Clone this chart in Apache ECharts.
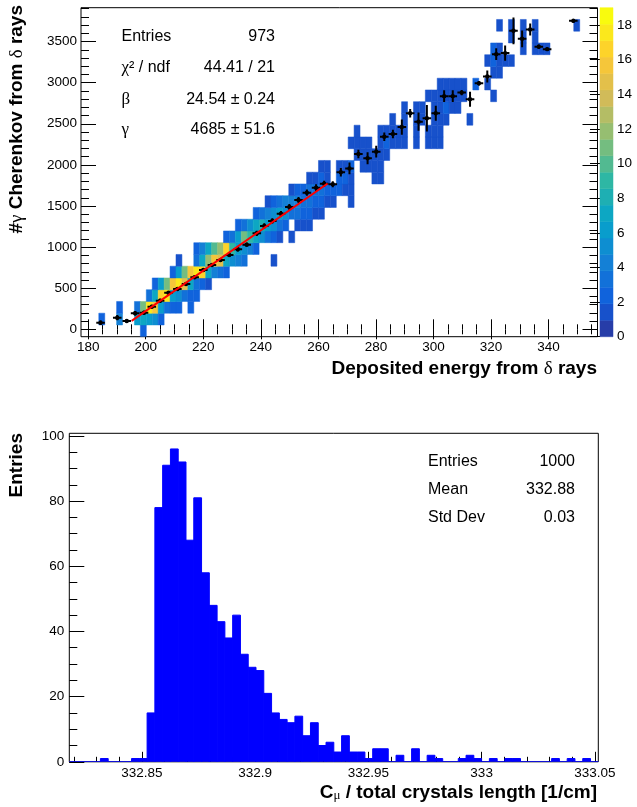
<!DOCTYPE html>
<html>
<head>
<meta charset="utf-8">
<script src="https://cdn.jsdelivr.net/npm/echarts@6/dist/echarts.min.js"></script>
<style>
  html, body { margin: 0; padding: 0; background: #ffffff; }
  #c { width: 637px; height: 807px; }
</style>
</head>
<body>
<div id="c"></div>
<script>
// ---------------- 2D histogram: Cherenkov photons vs deposited energy ----------------
const h2XMin = 177.5, h2XMax = 357.0, h2NX = 87;
const h2YMin = -90, h2YMax = 3912, h2NY = 28;
const h2ZMax = 19;          // top of the colour scale
const h2Levels = 20;        // number of colour contours

// non-empty cells, one list per y bin: [xBin, entries]
const h2Rows = [
  /* 0 */ [[10, 2]],
  /* 1 */ [[3, 2], [6, 4], [9, 6], [10, 7], [11, 6], [12, 5], [13, 2]],
  /* 2 */ [[6, 2], [9, 3], [10, 11], [11, 18], [12, 16], [13, 6], [14, 3], [15, 2], [16, 2], [18, 2]],
  /* 3 */ [[11, 3], [12, 7], [13, 17], [14, 18], [15, 6], [16, 5], [17, 3], [18, 2], [19, 2]],
  /* 4 */ [[12, 2], [13, 6], [14, 11], [15, 16], [16, 18], [17, 15], [18, 7], [19, 3], [20, 2], [21, 1]],
  /* 5 */ [[15, 2], [16, 6], [17, 11], [18, 16], [19, 18], [20, 17], [21, 7], [22, 4], [23, 3], [24, 2]],
  /* 6 */ [[16, 1], [19, 3], [20, 7], [21, 12], [22, 16], [23, 15], [24, 7], [25, 5], [26, 4], [27, 3], [32, 1]],
  /* 7 */ [[19, 2], [20, 4], [21, 7], [22, 10], [23, 12], [24, 17], [25, 9], [26, 6], [27, 5], [28, 4], [29, 2]],
  /* 8 */ [[24, 2], [25, 3], [26, 6], [27, 11], [28, 9], [29, 7], [30, 5], [31, 3], [32, 2], [33, 1], [35, 1]],
  /* 9 */ [[26, 2], [27, 3], [28, 5], [29, 7], [30, 8], [31, 6], [32, 5], [33, 3], [34, 2], [36, 1], [37, 1], [38, 1]],
  /* 10 */ [[29, 2], [30, 3], [31, 4], [32, 5], [33, 6], [34, 5], [35, 3], [36, 3], [37, 2], [38, 2], [39, 1], [40, 1]],
  /* 11 */ [[31, 1], [32, 2], [33, 3], [34, 4], [35, 4], [36, 4], [37, 3], [38, 3], [39, 2], [40, 2], [41, 1], [42, 1], [45, 1]],
  /* 12 */ [[35, 1], [36, 2], [37, 2], [38, 3], [39, 3], [40, 3], [41, 2], [42, 2], [43, 2], [44, 1], [45, 1]],
  /* 13 */ [[38, 1], [39, 1], [40, 2], [41, 1], [43, 2], [44, 2], [45, 1], [49, 1], [50, 1]],
  /* 14 */ [[40, 1], [41, 1], [43, 1], [44, 1], [45, 2], [47, 1], [48, 1], [49, 1], [50, 1]],
  /* 15 */ [[46, 1], [47, 1], [48, 1], [49, 1], [50, 1], [51, 1]],
  /* 16 */ [[45, 1], [46, 1], [47, 1], [48, 1], [50, 1], [51, 2], [52, 1], [53, 1], [54, 1], [56, 1], [58, 1], [59, 1], [60, 1]],
  /* 17 */ [[46, 1], [50, 1], [51, 1], [52, 1], [53, 1], [54, 1], [56, 1], [58, 1], [59, 1], [60, 1]],
  /* 18 */ [[52, 1], [54, 1], [56, 1], [57, 1], [59, 1], [60, 1], [61, 1], [65, 1]],
  /* 19 */ [[54, 1], [56, 1], [57, 1], [59, 1], [60, 1], [61, 2], [62, 1], [63, 1]],
  /* 20 */ [[58, 1], [59, 1], [60, 1], [61, 1], [62, 1], [63, 1], [64, 1], [69, 1]],
  /* 21 */ [[60, 1], [61, 1], [62, 1], [63, 1], [64, 1], [66, 2], [68, 1]],
  /* 22 */ [[69, 1], [70, 1]],
  /* 23 */ [[68, 1], [69, 2], [70, 1], [71, 1], [72, 1]],
  /* 24 */ [[69, 2], [70, 1], [74, 1], [76, 1], [77, 1], [78, 1]],
  /* 25 */ [[72, 1], [74, 1], [76, 1]],
  /* 26 */ [[70, 1], [72, 1], [74, 1], [76, 1], [83, 1]]
];

// profile of the same sample: bin centre, mean, error on the mean
const profX = [184.3, 190.1, 193.4, 196.3, 199.4, 202.1, 205.0, 207.9, 211.0, 214.0,
  217.0, 220.0, 223.0, 226.0, 229.0, 232.0, 235.1, 238.6, 241.2, 244.0,
  247.0, 249.9, 253.1, 256.0, 259.2, 262.0, 265.0, 267.8, 270.8, 273.9,
  277.1, 280.1, 282.9, 285.9, 289.0, 291.9, 294.8, 297.7, 300.8, 303.7,
  306.7, 309.8, 312.7, 315.8, 318.7, 321.8, 324.9, 327.8, 330.8, 333.6,
  336.6, 339.5, 348.6];
const profY = [80, 141, 101, 195, 202, 275, 348, 445, 490, 551,
  633, 721, 782, 843, 903, 973, 1030, 1168, 1257, 1318,
  1406, 1488, 1573, 1662, 1722, 1771, 1764, 1910, 1957, 2133,
  2080, 2161, 2343, 2376, 2460, 2628, 2526, 2567, 2628, 2836,
  2836, 2879, 2798, 2993, 3075, 3347, 3360, 3631, 3534, 3647,
  3438, 3408, 3752];
const profErr = [15, 20, 10, 15, 10, 10, 10, 10, 10, 10,
  10, 10, 10, 12, 12, 15, 15, 20, 20, 20,
  20, 25, 25, 25, 30, 25, 25, 40, 60, 40,
  60, 60, 40, 40, 80, 40, 100, 150, 80, 60,
  60, 20, 80, 15, 60, 60, 80, 150, 90, 60,
  15, 12, 12];
const profHalfWidth = 1.49;

// straight-line fit  y = beta * x - gamma
const fitBeta = 24.54, fitGamma = 4685;
const fitRange = [195.1, 263.2];

const statsTop = [
  ['{n|Entries}', '973'],
  ['{g|χ}{n|² / ndf}', '44.41 / 21'],
  ['{g|β}', '24.54 ± 0.24'],
  ['{g|γ}', '4685 ± 51.6']
];

// ---------------- 1D histogram: C_mu / total crystals length ----------------
const h1XMin = 332.818, h1XMax = 333.0515;
const h1Counts = [0, 0, 0, 0, 1, 0, 0, 0, 1, 1,
  15, 78, 91, 96, 92, 68, 81, 58, 48, 43,
  38, 45, 33, 29, 28, 21, 15, 13, 12, 14,
  8, 12, 5, 6, 3, 8, 3, 3, 1, 4,
  4, 0, 2, 0, 4, 0, 2, 1, 0, 0,
  1, 2, 1, 0, 1, 0, 1, 1, 0, 0,
  0, 0, 1, 0, 1, 0, 1, 0];
const h1YMax = 100.8;

const statsBottom = [
  ['Entries', '1000'],
  ['Mean', '332.88'],
  ['Std Dev', '0.03']
];

// tick labels
const topXTicks = [180, 200, 220, 240, 260, 280, 300, 320, 340];
const topYTicks = [0, 500, 1000, 1500, 2000, 2500, 3000, 3500];
const paletteTicks = [0, 2, 4, 6, 8, 10, 12, 14, 16, 18];
const bottomXTicks = [332.85, 332.9, 332.95, 333, 333.05];
const bottomYTicks = [0, 20, 40, 60, 80, 100];

// ---------------- helpers ----------------
const FONT = '"Liberation Sans", Arial, Helvetica, sans-serif';
const GREEK = '"Liberation Serif", "DejaVu Serif", serif';

function minorSteps(from, to, step) {
  const out = [];
  const n = Math.round((to - from) / step);
  for (let i = 0; i <= n; i++) out.push(+(from + i * step).toFixed(6));
  return out;
}

// ROOT "bird" palette
const birdStops = [0, 0.125, 0.25, 0.375, 0.5, 0.625, 0.75, 0.875, 1];
const birdR = [0.2082, 0.0592, 0.0780, 0.0232, 0.1802, 0.5301, 0.8186, 0.9956, 0.9764];
const birdG = [0.1664, 0.3599, 0.5041, 0.6419, 0.7178, 0.7492, 0.7328, 0.7862, 0.9832];
const birdB = [0.5293, 0.8684, 0.8385, 0.7914, 0.6425, 0.4662, 0.3499, 0.1968, 0.0539];
function bird(t) {
  let s = 0;
  while (s < birdStops.length - 2 && t > birdStops[s + 1]) s++;
  const f = (t - birdStops[s]) / (birdStops[s + 1] - birdStops[s]);
  const c = (a) => Math.round(255 * (a[s] + f * (a[s + 1] - a[s])));
  return 'rgb(' + c(birdR) + ',' + c(birdG) + ',' + c(birdB) + ')';
}
function levelColor(k) {
  const idx = Math.floor((k + 0.99) * 255 / h2Levels);
  return bird(Math.min(idx, 254) / 254);
}
function countColor(c) {
  const k = Math.min(h2Levels - 1, Math.floor(c / (h2ZMax / h2Levels) + 1e-9));
  return levelColor(k);
}

// cells as value rectangles
const h2dx = (h2XMax - h2XMin) / h2NX, h2dy = (h2YMax - h2YMin) / h2NY;
const cellData = [];
h2Rows.forEach((row, j) => {
  row.forEach(([i, c]) => {
    cellData.push([h2XMin + i * h2dx, h2XMin + (i + 1) * h2dx,
                   h2YMin + j * h2dy, h2YMin + (j + 1) * h2dy, c]);
  });
});

const profData = profX.map((x, i) => [x, profY[i], profErr[i]]);
const fitData = fitRange.map(x => [x, fitBeta * x - fitGamma]);

const paletteData = [];
for (let k = 0; k < h2Levels; k++) {
  paletteData.push([k * h2ZMax / h2Levels, (k + 1) * h2ZMax / h2Levels, k]);
}

const h1dx = (h1XMax - h1XMin) / h1Counts.length;
const h1Data = h1Counts.map((c, i) => [h1XMin + i * h1dx, h1XMin + (i + 1) * h1dx, c]);

// ---------------- axes ----------------
const labelStyle = { color: '#000', fontFamily: FONT, fontSize: 13.5, formatter: (v) => String(v) };
function valueAxis(extra) {
  return Object.assign({
    type: 'value', scale: true,
    axisLine: { show: false },
    splitLine: { show: false },
    axisLabel: { show: false },
    axisTick: { show: false }
  }, extra);
}
function ticks(values, len) {
  return { show: true, inside: true, length: len, customValues: values,
           lineStyle: { color: '#000', width: 1 } };
}

const topXMinor = minorSteps(180, 355, 5);
const topYMinor = minorSteps(0, 3900, 100);
const botXMinor = minorSteps(332.82, 333.05, 0.01);
const botYMinor = minorSteps(0, 100, 5);

const xAxes = [
  valueAxis({ gridIndex: 0, min: h2XMin, max: h2XMax, position: 'bottom',
    axisTick: ticks(topXTicks, 10),
    axisLabel: Object.assign({ show: true, customValues: topXTicks, margin: 4 }, labelStyle) }),
  valueAxis({ gridIndex: 0, min: h2XMin, max: h2XMax, position: 'bottom', axisTick: ticks(topXMinor, 5) }),
  valueAxis({ gridIndex: 0, min: h2XMin, max: h2XMax, position: 'top', axisTick: ticks(topXTicks, 10) }),
  valueAxis({ gridIndex: 0, min: h2XMin, max: h2XMax, position: 'top', axisTick: ticks(topXMinor, 5) }),
  valueAxis({ gridIndex: 1, min: 0, max: 1, position: 'bottom' }),
  valueAxis({ gridIndex: 2, min: h1XMin, max: h1XMax, position: 'bottom',
    axisTick: ticks(bottomXTicks, 10),
    axisLabel: Object.assign({ show: true, customValues: bottomXTicks, margin: 4 }, labelStyle) }),
  valueAxis({ gridIndex: 2, min: h1XMin, max: h1XMax, position: 'bottom', axisTick: ticks(botXMinor, 5) })
];
const yAxes = [
  valueAxis({ gridIndex: 0, min: h2YMin, max: h2YMax, position: 'left',
    axisTick: ticks(topYTicks, 15),
    axisLabel: Object.assign({ show: true, customValues: topYTicks, margin: 4 }, labelStyle) }),
  valueAxis({ gridIndex: 0, min: h2YMin, max: h2YMax, position: 'left', axisTick: ticks(topYMinor, 8) }),
  valueAxis({ gridIndex: 0, min: h2YMin, max: h2YMax, position: 'right', axisTick: ticks(topYTicks, 15) }),
  valueAxis({ gridIndex: 0, min: h2YMin, max: h2YMax, position: 'right', axisTick: ticks(topYMinor, 8) }),
  valueAxis({ gridIndex: 1, min: 0, max: h2ZMax, position: 'right',
    axisTick: ticks(paletteTicks, 10),
    axisLabel: Object.assign({ show: true, customValues: paletteTicks, margin: 4 }, labelStyle) }),
  valueAxis({ gridIndex: 2, min: 0, max: h1YMax, position: 'left',
    axisTick: ticks(bottomYTicks, 15),
    axisLabel: Object.assign({ show: true, customValues: bottomYTicks, margin: 5 }, labelStyle) }),
  valueAxis({ gridIndex: 2, min: 0, max: h1YMax, position: 'left', axisTick: ticks(botYMinor, 8) })
];

// ---------------- series ----------------
function rectBetween(api, x0, x1, y0, y1) {
  const a = api.coord([x0, y1]);
  const b = api.coord([x1, y0]);
  return { x: a[0], y: a[1], width: b[0] - a[0], height: b[1] - a[1] };
}

const series = [
  {
    type: 'custom', name: 'cells', xAxisIndex: 0, yAxisIndex: 0,
    data: cellData, clip: true, z: 2,
    renderItem(params, api) {
      const col = countColor(api.value(4));
      return { type: 'rect',
        shape: rectBetween(api, api.value(0), api.value(1), api.value(2), api.value(3)),
        style: { fill: col, stroke: col, lineWidth: 0.5 } };
    }
  },
  {
    type: 'custom', name: 'profile', xAxisIndex: 0, yAxisIndex: 0,
    data: profData, clip: true, z: 3,
    renderItem(params, api) {
      const x = api.value(0), y = api.value(1), e = api.value(2);
      const l = api.coord([x - profHalfWidth, y]);
      const r = api.coord([x + profHalfWidth, y]);
      const t = api.coord([x, y + e]);
      const b = api.coord([x, y - e]);
      const c = api.coord([x, y]);
      const st = { stroke: '#000', lineWidth: 2 };
      return { type: 'group', children: [
        { type: 'line', shape: { x1: l[0], y1: l[1], x2: r[0], y2: r[1] }, style: st },
        { type: 'line', shape: { x1: t[0], y1: t[1] - 1, x2: b[0], y2: b[1] + 1 }, style: st },
        { type: 'circle', shape: { cx: c[0], cy: c[1], r: 2.2 }, style: { fill: '#000' } }
      ] };
    }
  },
  {
    type: 'line', name: 'fit', xAxisIndex: 0, yAxisIndex: 0,
    data: fitData, symbol: 'none', z: 4, animation: false,
    lineStyle: { color: '#ff0000', width: 2 }
  },
  {
    type: 'custom', name: 'palette', xAxisIndex: 4, yAxisIndex: 4,
    data: paletteData, z: 2,
    renderItem(params, api) {
      return { type: 'rect',
        shape: rectBetween(api, 0, 1, api.value(0), api.value(1)),
        style: { fill: levelColor(api.value(2)), stroke: levelColor(api.value(2)), lineWidth: 0.5 } };
    }
  },
  {
    type: 'custom', name: 'h1', xAxisIndex: 5, yAxisIndex: 5,
    data: h1Data, clip: true, z: 2,
    renderItem(params, api) {
      return { type: 'rect',
        shape: rectBetween(api, api.value(0), api.value(1), 0, api.value(2)),
        style: { fill: '#0000ff', stroke: '#0000ff', lineWidth: 1 } };
    }
  }
];

// ---------------- texts ----------------
const titleRich = {
  b: { fontFamily: FONT, fontWeight: 'bold', fontSize: 19, fill: '#000', color: '#000' },
  g: { fontFamily: GREEK, fontWeight: 'normal', fontSize: 19, fill: '#000', color: '#000' },
  s: { fontFamily: GREEK, fontWeight: 'normal', fontSize: 13, fill: '#000', color: '#000', verticalAlign: 'bottom', lineHeight: 14 }
};
const statRich = {
  n: { fontFamily: FONT, fontSize: 16, fill: '#000', color: '#000' },
  g: { fontFamily: GREEK, fontSize: 17, fill: '#000', color: '#000' }
};

function text(x, y, str, align, rich, rot, font) {
  return {
    type: 'text', x: x, y: y, rotation: rot || 0, z: 10,
    style: {
      text: str, rich: rich, font: font,
      align: align, textAlign: align,
      verticalAlign: 'middle', textVerticalAlign: 'middle',
      fill: '#000'
    }
  };
}

const graphics = [
  text(17, 5, '{b|#}{g|γ}{b| Cherenkov from }{g|δ}{b| rays}', 'right', titleRich, Math.PI / 2),
  text(597, 369, '{b|Deposited energy from }{g|δ}{b| rays}', 'right', titleRich),
  text(17, 433, '{b|Entries}', 'right', titleRich, Math.PI / 2),
  text(597, 793, '{b|C}{s|μ}{b| / total crystals length [1/cm]}', 'right', titleRich)
];
const statRowsTop = [37, 68, 100, 130];
statsTop.forEach((r, i) => {
  graphics.push(text(121.5, statRowsTop[i], r[0], 'left', statRich));
  graphics.push(text(275, statRowsTop[i], '{n|' + r[1] + '}', 'right', statRich));
});
const statRowsBottom = [462, 490, 518];
statsBottom.forEach((r, i) => {
  graphics.push(text(428, statRowsBottom[i], '{n|' + r[0] + '}', 'left', statRich));
  graphics.push(text(575, statRowsBottom[i], '{n|' + r[1] + '}', 'right', statRich));
});

const chart = echarts.init(document.getElementById('c'), null, { renderer: 'canvas', width: 637, height: 807 });
chart.setOption({
  animation: false,
  backgroundColor: '#ffffff',
  grid: [
    { left: 81, top: 7.7, width: 516.5, height: 329, show: true, borderColor: '#000', borderWidth: 1, backgroundColor: 'transparent' },
    { left: 600, top: 7.7, width: 13, height: 329, show: false },
    { left: 69.3, top: 433.3, width: 529, height: 328.5, show: true, borderColor: '#000', borderWidth: 1, backgroundColor: 'transparent' }
  ],
  xAxis: xAxes,
  yAxis: yAxes,
  series: series,
  graphic: graphics
});
</script>
</body>
</html>
